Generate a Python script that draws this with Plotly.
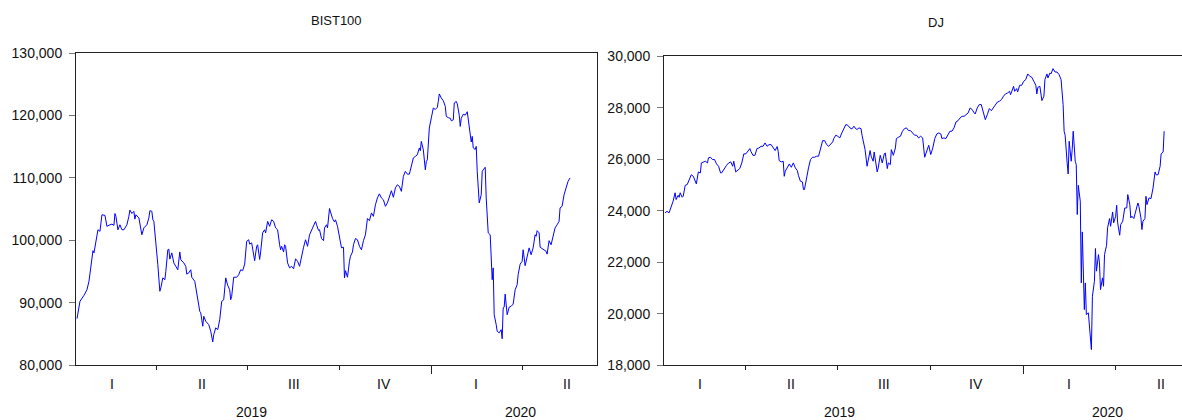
import plotly.graph_objects as go

# ---------------- data ----------------
bist_dates = [
    "2019-01-11", "2019-01-14", "2019-01-18", "2019-01-21", "2019-01-23", "2019-01-25", "2019-01-27", "2019-01-28",
    "2019-01-30", "2019-02-01", "2019-02-03", "2019-02-05", "2019-02-08", "2019-02-10", "2019-02-13", "2019-02-15",
    "2019-02-17", "2019-02-18", "2019-02-19", "2019-02-21", "2019-02-23", "2019-02-25", "2019-02-27", "2019-03-02",
    "2019-03-04", "2019-03-05", "2019-03-07", "2019-03-09", "2019-03-10", "2019-03-11", "2019-03-14", "2019-03-15",
    "2019-03-17", "2019-03-19", "2019-03-22", "2019-03-24", "2019-03-25", "2019-03-27", "2019-03-28", "2019-03-29",
    "2019-03-31", "2019-04-01", "2019-04-02", "2019-04-04", "2019-04-05", "2019-04-07", "2019-04-09", "2019-04-10",
    "2019-04-12", "2019-04-13", "2019-04-14", "2019-04-16", "2019-04-18", "2019-04-20", "2019-04-22", "2019-04-24",
    "2019-04-25", "2019-04-28", "2019-04-30", "2019-05-01", "2019-05-03", "2019-05-05", "2019-05-06", "2019-05-09",
    "2019-05-11", "2019-05-14", "2019-05-15", "2019-05-17", "2019-05-18", "2019-05-20", "2019-05-23", "2019-05-25",
    "2019-05-27", "2019-05-28", "2019-05-30", "2019-06-01", "2019-06-03", "2019-06-05", "2019-06-07", "2019-06-09",
    "2019-06-11", "2019-06-13", "2019-06-14", "2019-06-15", "2019-06-17", "2019-06-20", "2019-06-22", "2019-06-24",
    "2019-06-26", "2019-06-28", "2019-06-30", "2019-07-02", "2019-07-03", "2019-07-05", "2019-07-08", "2019-07-10",
    "2019-07-11", "2019-07-13", "2019-07-14", "2019-07-16", "2019-07-18", "2019-07-19", "2019-07-21", "2019-07-23",
    "2019-07-25", "2019-07-27", "2019-07-29", "2019-07-31", "2019-08-02", "2019-08-03", "2019-08-04", "2019-08-06",
    "2019-08-07", "2019-08-08", "2019-08-10", "2019-08-12", "2019-08-14", "2019-08-16", "2019-08-18", "2019-08-20",
    "2019-08-22", "2019-08-24", "2019-08-26", "2019-08-28", "2019-08-30", "2019-09-01", "2019-09-03", "2019-09-05",
    "2019-09-07", "2019-09-08", "2019-09-10", "2019-09-11", "2019-09-13", "2019-09-15", "2019-09-16", "2019-09-18",
    "2019-09-19", "2019-09-21", "2019-09-22", "2019-09-24", "2019-09-26", "2019-09-27", "2019-09-29", "2019-10-01",
    "2019-10-03", "2019-10-05", "2019-10-06", "2019-10-07", "2019-10-09", "2019-10-11", "2019-10-12", "2019-10-14",
    "2019-10-15", "2019-10-17", "2019-10-19", "2019-10-21", "2019-10-23", "2019-10-25", "2019-10-27", "2019-10-29",
    "2019-10-31", "2019-11-02", "2019-11-04", "2019-11-06", "2019-11-08", "2019-11-10", "2019-11-12", "2019-11-14",
    "2019-11-16", "2019-11-18", "2019-11-20", "2019-11-21", "2019-11-22", "2019-11-24", "2019-11-26", "2019-11-28",
    "2019-11-30", "2019-12-02", "2019-12-04", "2019-12-06", "2019-12-08", "2019-12-10", "2019-12-12", "2019-12-14",
    "2019-12-16", "2019-12-18", "2019-12-20", "2019-12-21", "2019-12-22", "2019-12-24", "2019-12-26", "2019-12-27",
    "2019-12-28", "2019-12-30", "2020-01-01", "2020-01-03", "2020-01-05", "2020-01-07", "2020-01-08", "2020-01-09",
    "2020-01-11", "2020-01-13", "2020-01-15", "2020-01-16", "2020-01-18", "2020-01-20", "2020-01-21", "2020-01-23",
    "2020-01-24", "2020-01-26", "2020-01-27", "2020-01-29", "2020-01-30", "2020-01-31", "2020-02-02", "2020-02-04",
    "2020-02-06", "2020-02-07", "2020-02-08", "2020-02-10", "2020-02-11", "2020-02-12", "2020-02-14", "2020-02-15",
    "2020-02-16", "2020-02-18", "2020-02-20", "2020-02-21", "2020-02-22", "2020-02-24", "2020-02-25", "2020-02-27",
    "2020-02-29", "2020-03-01", "2020-03-02", "2020-03-03", "2020-03-04", "2020-03-06", "2020-03-07", "2020-03-09",
    "2020-03-11", "2020-03-12", "2020-03-13", "2020-03-14", "2020-03-15", "2020-03-17", "2020-03-19", "2020-03-21",
    "2020-03-23", "2020-03-25", "2020-03-27", "2020-03-28", "2020-03-30", "2020-04-01", "2020-04-02", "2020-04-04",
    "2020-04-05", "2020-04-07", "2020-04-08", "2020-04-10", "2020-04-12", "2020-04-14", "2020-04-15", "2020-04-16",
    "2020-04-18", "2020-04-19", "2020-04-21", "2020-04-23", "2020-04-25", "2020-04-26", "2020-04-28", "2020-04-30",
    "2020-05-02", "2020-05-04", "2020-05-06", "2020-05-08", "2020-05-09", "2020-05-11", "2020-05-13", "2020-05-15",
    "2020-05-17", "2020-05-19",
]
bist_values = [
    87470, 90250, 91200, 92100, 93450, 96100, 98350, 98000,
    99850, 101700, 101450, 104100, 104000, 102250, 102500, 102600,
    102400, 104300, 103850, 101700, 102500, 101700, 101700, 102500,
    103850, 104850, 104300, 104650, 103400, 104100, 103600, 102500,
    100900, 102000, 102500, 103600, 104750, 104650, 103300, 103050,
    99850, 98800, 96100, 91850, 92400, 94000, 93700, 95050,
    98500, 98600, 97000, 98000, 96400, 95850, 95300, 98150,
    96900, 96400, 95850, 94600, 94800, 95300, 94100, 93450,
    91300, 88650, 88400, 86250, 87850, 87050, 86500, 85450,
    83750, 84900, 86000, 85700, 87300, 90250, 90500, 94000,
    92800, 92100, 90500, 91050, 94100, 94100, 94500, 95300,
    95150, 96200, 99850, 100100, 99400, 99600, 96750, 99050,
    99300, 96950, 98150, 101200, 101700, 101200, 103050, 102250,
    103300, 103050, 102000, 101700, 99300, 98500, 99050, 98150,
    99300, 99050, 96400, 95600, 95850, 95450, 97050, 96650,
    95850, 97700, 98900, 100100, 99050, 100900, 101700, 102500,
    103050, 102500, 101600, 101700, 100300, 99950, 102000, 102500,
    102000, 105100, 104550, 103500, 102950, 103300, 102250, 100400,
    98800, 98900, 94000, 95150, 94100, 96650, 97450, 98150,
    99300, 100300, 100100, 99050, 98500, 99950, 100900, 103500,
    103150, 104400, 103850, 105700, 106800, 107450, 106800, 106500,
    105450, 106000, 107050, 107300, 107950, 106900, 108400, 108900,
    108650, 107850, 110250, 111050, 110600, 110600, 111850, 113200,
    113450, 113700, 114800, 114350, 115850, 114500, 111300, 112650,
    112900, 118000, 119600, 121200, 120950, 121300, 122250, 123450,
    122800, 122350, 121450, 119850, 119650, 119550, 119150, 119300,
    122000, 122250, 121850, 120050, 118250, 119550, 120200, 120050,
    120600, 119550, 118450, 115750, 116650, 114800, 114550, 115050,
    111050, 106000, 107300, 111050, 111300, 111700, 106800, 101200,
    100900, 95600, 93700, 95600, 88100, 86500, 85450, 85200,
    85700, 84250, 89200, 89300, 91400, 88100, 89300, 89450,
    89800, 92100, 92900, 94500, 96200, 96650, 98500, 95950,
    96650, 98250, 98800, 97700, 98800, 100900, 100650, 101550,
    101200, 98900, 98700, 98500, 98250, 97800, 99950, 99300,
    100650, 102000, 102500, 103050, 105200, 105450, 107300, 108400,
    109450, 110000,
]

dj_dates = [
    "2019-01-11", "2019-01-13", "2019-01-15", "2019-01-17", "2019-01-19", "2019-01-21", "2019-01-22", "2019-01-24",
    "2019-01-25", "2019-01-26", "2019-01-28", "2019-01-29", "2019-01-31", "2019-02-02", "2019-02-04", "2019-02-06",
    "2019-02-08", "2019-02-10", "2019-02-11", "2019-02-13", "2019-02-15", "2019-02-16", "2019-02-18", "2019-02-20",
    "2019-02-22", "2019-02-23", "2019-02-25", "2019-02-27", "2019-03-01", "2019-03-03", "2019-03-05", "2019-03-07",
    "2019-03-08", "2019-03-10", "2019-03-11", "2019-03-13", "2019-03-15", "2019-03-17", "2019-03-19", "2019-03-20",
    "2019-03-22", "2019-03-24", "2019-03-26", "2019-03-28", "2019-03-30", "2019-04-01", "2019-04-03", "2019-04-05",
    "2019-04-06", "2019-04-08", "2019-04-10", "2019-04-12", "2019-04-14", "2019-04-16", "2019-04-18", "2019-04-20",
    "2019-04-22", "2019-04-24", "2019-04-26", "2019-04-28", "2019-04-30", "2019-05-02", "2019-05-03", "2019-05-04",
    "2019-05-06", "2019-05-08", "2019-05-09", "2019-05-10", "2019-05-12", "2019-05-14", "2019-05-16", "2019-05-18",
    "2019-05-20", "2019-05-22", "2019-05-23", "2019-05-25", "2019-05-27", "2019-05-28", "2019-05-29", "2019-05-31",
    "2019-06-02", "2019-06-04", "2019-06-06", "2019-06-08", "2019-06-10", "2019-06-12", "2019-06-14", "2019-06-16",
    "2019-06-18", "2019-06-20", "2019-06-22", "2019-06-23", "2019-06-26", "2019-06-27", "2019-06-29", "2019-07-01",
    "2019-07-03", "2019-07-05", "2019-07-07", "2019-07-09", "2019-07-11", "2019-07-13", "2019-07-15", "2019-07-17",
    "2019-07-18", "2019-07-20", "2019-07-22", "2019-07-24", "2019-07-25", "2019-07-27", "2019-07-28", "2019-07-30",
    "2019-07-31", "2019-08-02", "2019-08-03", "2019-08-05", "2019-08-06", "2019-08-07", "2019-08-09", "2019-08-10",
    "2019-08-12", "2019-08-14", "2019-08-16", "2019-08-17", "2019-08-19", "2019-08-20", "2019-08-22", "2019-08-23",
    "2019-08-25", "2019-08-27", "2019-08-28", "2019-08-30", "2019-09-01", "2019-09-03", "2019-09-05", "2019-09-07",
    "2019-09-09", "2019-09-11", "2019-09-13", "2019-09-15", "2019-09-17", "2019-09-19", "2019-09-21", "2019-09-22",
    "2019-09-23", "2019-09-25", "2019-09-27", "2019-09-29", "2019-10-01", "2019-10-03", "2019-10-05", "2019-10-07",
    "2019-10-09", "2019-10-11", "2019-10-12", "2019-10-14", "2019-10-16", "2019-10-18", "2019-10-20", "2019-10-22",
    "2019-10-24", "2019-10-26", "2019-10-28", "2019-10-30", "2019-11-01", "2019-11-03", "2019-11-05", "2019-11-07",
    "2019-11-09", "2019-11-11", "2019-11-13", "2019-11-14", "2019-11-16", "2019-11-18", "2019-11-20", "2019-11-22",
    "2019-11-24", "2019-11-26", "2019-11-28", "2019-11-30", "2019-12-02", "2019-12-04", "2019-12-06", "2019-12-08",
    "2019-12-10", "2019-12-12", "2019-12-14", "2019-12-16", "2019-12-18", "2019-12-19", "2019-12-21", "2019-12-22",
    "2019-12-23", "2019-12-25", "2019-12-26", "2019-12-28", "2019-12-30", "2020-01-01", "2020-01-03", "2020-01-05",
    "2020-01-07", "2020-01-09", "2020-01-11", "2020-01-13", "2020-01-14", "2020-01-15", "2020-01-17", "2020-01-19",
    "2020-01-21", "2020-01-22", "2020-01-24", "2020-01-25", "2020-01-27", "2020-01-28", "2020-01-30", "2020-02-01",
    "2020-02-03", "2020-02-05", "2020-02-07", "2020-02-09", "2020-02-10", "2020-02-11", "2020-02-13", "2020-02-14",
    "2020-02-15", "2020-02-17", "2020-02-18", "2020-02-19", "2020-02-21", "2020-02-22", "2020-02-23", "2020-02-24",
    "2020-02-26", "2020-02-27", "2020-02-28", "2020-03-01", "2020-03-02", "2020-03-03", "2020-03-05", "2020-03-06",
    "2020-03-08", "2020-03-09", "2020-03-11", "2020-03-12", "2020-03-13", "2020-03-15", "2020-03-16", "2020-03-17",
    "2020-03-19", "2020-03-20", "2020-03-21", "2020-03-23", "2020-03-24", "2020-03-26", "2020-03-27", "2020-03-29",
    "2020-03-30", "2020-04-01", "2020-04-02", "2020-04-03", "2020-04-05", "2020-04-06", "2020-04-08", "2020-04-10",
    "2020-04-12", "2020-04-13", "2020-04-15", "2020-04-16", "2020-04-17", "2020-04-19", "2020-04-20", "2020-04-22",
    "2020-04-23", "2020-04-24", "2020-04-26", "2020-04-27", "2020-04-28", "2020-04-30", "2020-05-01", "2020-05-02",
    "2020-05-04", "2020-05-06", "2020-05-08", "2020-05-10", "2020-05-11", "2020-05-13", "2020-05-15", "2020-05-16",
    "2020-05-18", "2020-05-19",
]
dj_values = [
    23920, 23980, 23920, 24140, 24370, 24700, 24435, 24600,
    24525, 24700, 24525, 24565, 24990, 25020, 25210, 25400,
    25340, 25120, 25045, 25510, 25470, 25860, 25900, 25925,
    25860, 26055, 26080, 25990, 25990, 25820, 25730, 25470,
    25470, 25600, 25665, 25770, 25860, 25900, 25730, 25925,
    25510, 25560, 25640, 25860, 26210, 26210, 26340, 26415,
    26310, 26155, 26155, 26415, 26440, 26505, 26505, 26635,
    26505, 26570, 26570, 26440, 26340, 26495, 26310, 25950,
    25900, 25925, 25340, 25535, 25690, 25820, 25690, 25860,
    25665, 25560, 25380, 25150, 25120, 24825, 24825, 25280,
    25665, 25990, 26080, 26080, 26120, 26120, 26440, 26725,
    26725, 26570, 26505, 26545, 26675, 26805, 26935, 26895,
    26830, 27025, 27220, 27350, 27320, 27220, 27180, 27285,
    27220, 27155, 27220, 27190, 26935, 26545, 26375, 25730,
    25990, 26340, 26120, 25925, 26285, 26055, 25510, 25665,
    26155, 25860, 26210, 26250, 25640, 25860, 25795, 26375,
    26155, 26440, 26805, 26855, 26895, 27090, 27190, 27220,
    27115, 27115, 27025, 26935, 26935, 26830, 26895, 26855,
    26830, 26080, 26310, 26545, 26185, 26440, 26805, 26985,
    27025, 26985, 26805, 26830, 26805, 26935, 27090, 27090,
    27220, 27450, 27500, 27605, 27670, 27670, 27735, 27800,
    27995, 27930, 27800, 27760, 27995, 28125, 28125, 27865,
    27540, 27735, 27970, 27890, 28020, 28125, 28225, 28255,
    28320, 28450, 28540, 28575, 28640, 28510, 28705, 28835,
    28640, 28745, 28615, 28875, 28875, 29030, 29095, 29315,
    29225, 29185, 29030, 28875, 28540, 28795, 28835, 28280,
    28450, 29095, 29315, 29160, 29355, 29315, 29520, 29390,
    29390, 29290, 29095, 28125, 27090, 26935, 25860, 25430,
    26700, 25925, 26375, 27090, 25925, 25795, 23855, 24990,
    24370, 21200, 23180, 20165, 21200, 19970, 20035, 19580,
    18610, 20680, 21265, 22535, 21655, 22300, 21980, 20940,
    21395, 21070, 22300, 22660, 23335, 23700, 23400, 23955,
    23530, 23790, 24215, 23530, 23050, 23465, 23595, 24110,
    24110, 24630, 24240, 23725, 23790, 23700, 23855, 24240,
    24305, 24175, 23725, 23270, 23595, 23700, 24565, 24240,
    24500, 24475, 24885, 25510, 25400, 25400, 25730, 26210,
    26285, 27090,
]

quarter_labels = ["I", "II", "III", "IV", "I", "II"]
quarter_mids = ["2019-02-15", "2019-05-16", "2019-08-16", "2019-11-15", "2020-02-15", "2020-05-16"]
quarter_starts = ["2019-04-01", "2019-07-01", "2019-10-01", "2020-01-01", "2020-04-01"]
year_starts = ["2020-01-01"]
year_labels = ["2019", "2020"]

bist_ticks = [80000, 90000, 100000, 110000, 120000, 130000]
dj_ticks = [18000, 20000, 22000, 24000, 26000, 28000, 30000]

# ---------------- figure ----------------
W, H = 1182, 420
FONT = "Arial, Liberation Sans, sans-serif"
LINE = "#222222"
TEXT = "#111111"


def py(ypix):
    return (H - ypix) / H


fig = go.Figure()
fig.add_trace(go.Scatter(x=bist_dates, y=bist_values, mode="lines",
                         line=dict(color="#0000ff", width=1), xaxis="x", yaxis="y",
                         name="BIST100"))
fig.add_trace(go.Scatter(x=dj_dates, y=dj_values, mode="lines",
                         line=dict(color="#0000ff", width=1), xaxis="x2", yaxis="y2",
                         name="DJ"))


def xaxis_cfg(domain, rng, anchor):
    return dict(
        type="date", domain=domain, range=rng, anchor=anchor,
        showline=True, linecolor=LINE, linewidth=1, mirror=True,
        showgrid=False, zeroline=False,
        tickmode="array", tickvals=year_starts, ticks="outside", ticklen=8,
        tickcolor=LINE, tickwidth=1, showticklabels=False,
        minor=dict(tickmode="array", tickvals=quarter_starts, ticks="outside",
                   ticklen=4, tickcolor=LINE, tickwidth=1, showgrid=False),
        fixedrange=True,
    )


def yaxis_cfg(domain, rng, ticks, anchor, mirror):
    return dict(
        domain=domain, range=rng, anchor=anchor,
        showline=True, linecolor=LINE, linewidth=1, mirror=mirror,
        showgrid=False, zeroline=False,
        tickmode="array", tickvals=ticks, tickformat=",d",
        ticks="outside", ticklen=6, tickcolor="#777777", tickwidth=1,
        ticklabelstandoff=4,
        tickfont=dict(family=FONT, size=14, color=TEXT),
        fixedrange=True,
    )


fig.update_layout(
    width=W, height=H,
    margin=dict(l=0, r=0, t=0, b=0, autoexpand=False),
    paper_bgcolor="white", plot_bgcolor="white",
    showlegend=False, hovermode=False,
    font=dict(family=FONT, size=14, color=TEXT),
    xaxis=xaxis_cfg([76 / W, 597 / W], ["2019-01-10", "2020-06-15"], "y"),
    yaxis=yaxis_cfg([py(365.3), py(53)], [80000, 130000], bist_ticks, "x", True),
    xaxis2=xaxis_cfg([664 / W, 1.0], ["2019-01-10", "2020-06-05 16:00"], "y2"),
    yaxis2=yaxis_cfg([py(365.3), py(56.3)], [18000, 30000], dj_ticks, "x2", False),
)

annotations = [
    dict(text="BIST100", x=336 / W, y=py(20), xref="paper", yref="paper",
         xanchor="center", yanchor="middle", showarrow=False,
         font=dict(family=FONT, size=13, color=TEXT)),
    dict(text="DJ", x=936 / W, y=py(22), xref="paper", yref="paper",
         xanchor="center", yanchor="middle", showarrow=False,
         font=dict(family=FONT, size=13, color=TEXT)),
]
for xref in ["x", "x2"]:
    for lab, mid in zip(quarter_labels, quarter_mids):
        annotations.append(dict(text=lab, x=mid, y=py(383.5), xref=xref, yref="paper",
                                xanchor="center", yanchor="middle", showarrow=False,
                                font=dict(family=FONT, size=14, color=TEXT)))

year_pos = {"x": ["2019-07-05", "2020-03-30"], "x2": ["2019-07-03", "2020-03-24"]}
for xref, poss in year_pos.items():
    for lab, pos in zip(year_labels, poss):
        annotations.append(dict(text=lab, x=pos, y=py(412), xref=xref, yref="paper",
                                xanchor="center", yanchor="middle", showarrow=False,
                                font=dict(family=FONT, size=14, color=TEXT)))

fig.update_layout(annotations=annotations)

fig.write_html(
    "out.html",
    config={"displayModeBar": False, "staticPlot": True},
    post_script="document.body.style.margin='0';document.body.style.overflow='hidden';",
)
